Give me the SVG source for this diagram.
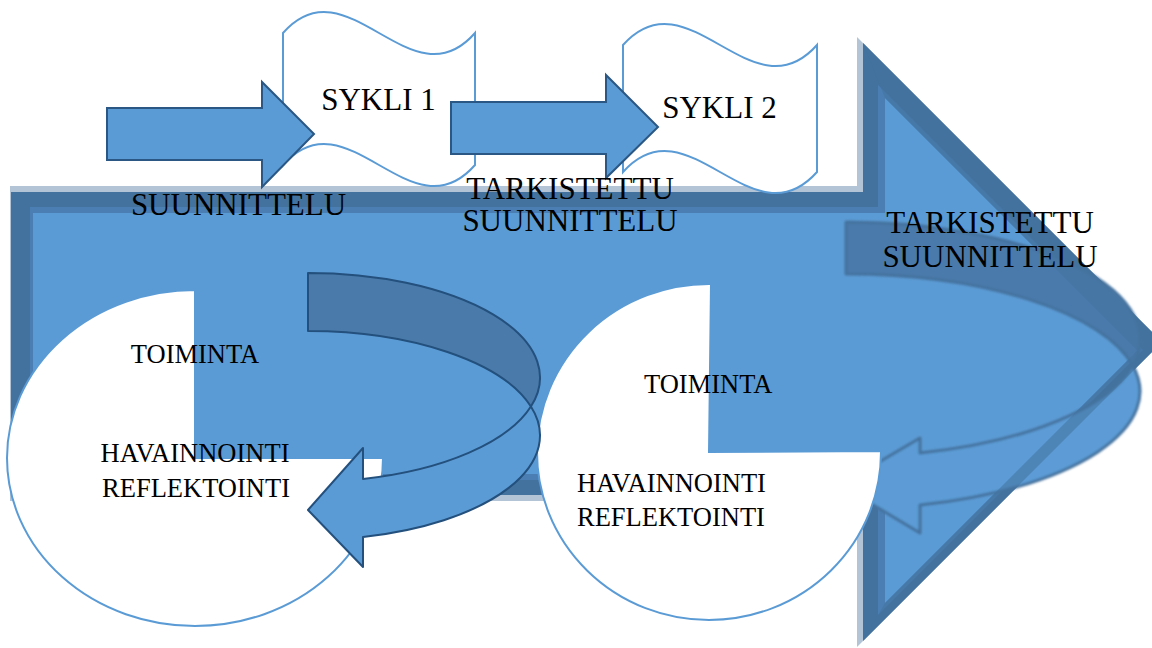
<svg xmlns="http://www.w3.org/2000/svg" width="1152" height="648" viewBox="0 0 1152 648">
<defs>
<style>
.t31{font-family:'Liberation Serif','Times New Roman',serif;font-size:31px;fill:#000}
.t26{font-family:'Liberation Serif','Times New Roman',serif;font-size:26.5px;fill:#000}
.wave{fill:#fff;stroke:#5b9bd5;stroke-width:2}
.rarrow{fill:#5b9bd5;stroke:#2a5783;stroke-width:2}
.pie{fill:#fff;stroke:#5b9bd5;stroke-width:2}
.cab{fill:#4a7aa9;stroke:#23507d;stroke-width:2;stroke-linejoin:round}
.caf{fill:#5b9bd5;stroke:#23507d;stroke-width:2;stroke-linejoin:round}
.c2b{fill:#4a7aab;stroke:#44729e;stroke-width:3;stroke-linejoin:round}
.c2f{fill:#5b9bd5;stroke:#44729e;stroke-width:3;stroke-linejoin:round}
</style>
<filter id="soft" x="-5%" y="-5%" width="110%" height="110%"><feGaussianBlur stdDeviation="0.9"/></filter>
</defs>
<rect width="1152" height="648" fill="#fff"/>
<g id="big-arrow">
<polygon points="10,186 857,186 857,37 1162,342 857,647 857,501 10,501" fill="#b3c4d6"/>
<polygon points="11,192 863,192 863,43 1162,342 863,641 863,495 11,495" fill="#44729e"/>
<polygon points="30,207 878,207 878,85 1143,350 878,615 878,480 30,480" fill="#4b7fb4"/>
<polygon points="33,213 885,213 885,98 1137.5,350.5 885,603 885,474 33,474" fill="#5b9bd5"/>
</g>
<g id="loop2">
<g filter="url(#soft)">
<path class="c2b" d="M846,222 A294,117.4 0 0 1 1132.7,365.4 A294,117.4 0 0 0 846,274 Z"/>
<path class="c2f" d="M1132.7,365.4 A294,117.4 0 0 1 920,505 L920,533 L840,485 L920,438 L920,453 A294,117.4 0 0 0 1132.7,365.4 Z"/>
</g>
<path d="M863,43 L1162,342 L863,641 L885,603 L1137.5,350.5 L885,98 Z" fill="#44729e" fill-opacity="0.55"/>
</g>
<g id="sykli1">
<path class="wave" d="M283,33 C347,-40 411,106 475,33 L475,165 C411,238 347,92 283,165 Z"/>
<text class="t31" x="378.5" y="110" text-anchor="middle">SYKLI 1</text>
</g>
<g id="sykli2">
<path class="wave" d="M623,45 C688,-28 752,118 817,45 L817,172 C752,245 688,99 623,172 Z"/>
<text class="t31" x="719.5" y="118" text-anchor="middle">SYKLI 2</text>
</g>
<g id="circle1">
<path class="pie" d="M195,458 L195,290 A188,168 0 1 0 383,458 Z"/>
<text class="t26" x="195" y="363" text-anchor="middle">TOIMINTA</text>
<text class="t26" x="195" y="462" text-anchor="middle">HAVAINNOINTI</text>
<text class="t26" x="196" y="497" text-anchor="middle">REFLEKTOINTI</text>
</g>
<g id="circle2">
<path class="pie" d="M709,452 L711,284 A172,168 0 1 0 881,451 Z"/>
<text class="t26" x="644" y="393">TOIMINTA</text>
<text class="t26" x="577" y="492">HAVAINNOINTI</text>
<text class="t26" x="577" y="526">REFLEKTOINTI</text>
</g>
<g id="loop1">
<path class="cab" d="M308,273 A232,104.5 0 0 1 530.9,406.5 A232,104.5 0 0 0 308,331 Z"/>
<path class="caf" d="M530.9,406.5 A232,104.5 0 0 1 363,537 L363,567 L308,510 L363,448 L363,479 A232,104.5 0 0 0 530.9,406.5 Z"/>
</g>
<g id="connectors">
<path class="rarrow" d="M107,108 L262,108 L262,82 L314,134 L262,187 L262,160 L107,160 Z"/>
<path class="rarrow" d="M451,102 L606,102 L606,75 L658,127 L606,178 L606,154 L451,154 Z"/>
</g>
<g id="big-arrow-labels">
<text class="t31" x="238.5" y="215" text-anchor="middle">SUUNNITTELU</text>
<text class="t31" x="570" y="199" text-anchor="middle">TARKISTETTU</text>
<text class="t31" x="570" y="231" text-anchor="middle">SUUNNITTELU</text>
<text class="t31" x="990" y="233" text-anchor="middle">TARKISTETTU</text>
<text class="t31" x="990" y="267" text-anchor="middle">SUUNNITTELU</text>
</g>
</svg>
